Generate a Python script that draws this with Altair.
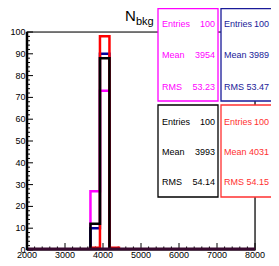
import altair as alt
import pandas as pd

# ---- data ----
bin_edges = [2000, 3670, 3920, 4170, 4420, 8000]
magenta_counts = [0, 27, 73, 0, 0, 0]
blue_counts = [0, 10, 90, 0, 0, 0]
red_counts = [0, 1, 98, 1, 0, 0]
black_counts = [0, 12, 88, 0, 0, 0]

stat_labels = ["Entries", "Mean", "RMS"]
magenta_stats = ["100", "3954", "53.23"]
blue_stats = ["100", "3989", "53.47"]
black_stats = ["100", "3993", "54.14"]
red_stats = ["100", "4031", "54.15"]

x_major = [2000, 3000, 4000, 5000, 6000, 7000, 8000]
y_major = [0, 10, 20, 30, 40, 50, 60, 70, 80, 90, 100]

W, H = 228, 218
FONT = "Liberation Sans"

x_scale = alt.Scale(domain=[2000, 8000], nice=False, zero=False)
y_scale = alt.Scale(domain=[0, 100], nice=False)
one = pd.DataFrame({"a": [0]})


def hist(counts, color):
    df = pd.DataFrame({"x": bin_edges, "y": counts})
    return alt.Chart(df).mark_line(
        interpolate="step-after", color=color, strokeWidth=2.5, clip=True
    ).encode(
        x=alt.X("x:Q", scale=x_scale, axis=None),
        y=alt.Y("y:Q", scale=y_scale, axis=None),
        order="x:Q",
    )


# ticks
x_minor = [v for v in range(2000, 8001, 200) if v % 1000 != 0]
y_minor = [v for v in range(0, 101, 2) if v % 10 != 0]
xt_major = alt.Chart(pd.DataFrame({"x": x_major})).mark_rule(color="black", strokeWidth=1).encode(
    x=alt.X("x:Q", scale=x_scale, axis=None), y=alt.value(H), y2=alt.value(H - 7))
xt_minor = alt.Chart(pd.DataFrame({"x": x_minor})).mark_rule(color="black", strokeWidth=1).encode(
    x=alt.X("x:Q", scale=x_scale, axis=None), y=alt.value(H), y2=alt.value(H - 3.5))
yt_major = alt.Chart(pd.DataFrame({"y": y_major})).mark_rule(color="black", strokeWidth=1).encode(
    y=alt.Y("y:Q", scale=y_scale, axis=None), x=alt.value(0), x2=alt.value(6))
yt_minor = alt.Chart(pd.DataFrame({"y": y_minor})).mark_rule(color="black", strokeWidth=1).encode(
    y=alt.Y("y:Q", scale=y_scale, axis=None), x=alt.value(0), x2=alt.value(3))

# tick labels as text marks placed through the scales
x_labels = alt.Chart(pd.DataFrame({"x": x_major, "t": [str(v) for v in x_major]})).mark_text(
    font=FONT, fontSize=9, align="center", baseline="top", color="black").encode(
    x=alt.X("x:Q", scale=x_scale, axis=None), y=alt.value(H + 0.5), text="t:N")
y_labels = alt.Chart(pd.DataFrame({"y": y_major, "t": [str(v) for v in y_major]})).mark_text(
    font=FONT, fontSize=9, align="right", baseline="middle", color="black").encode(
    y=alt.Y("y:Q", scale=y_scale, axis=None), x=alt.value(-1.5), text="t:N")

frame = alt.Chart(one).mark_rect(fill=None, stroke="black", strokeWidth=1.2).encode(
    x=alt.value(0), x2=alt.value(W), y=alt.value(0), y2=alt.value(H))
left_line = alt.Chart(one).mark_rule(color="black", strokeWidth=2.5).encode(
    x=alt.value(0), y=alt.value(0), y2=alt.value(H))
base_line = alt.Chart(one).mark_rule(color="#3a0a30", strokeWidth=3).encode(
    x=alt.value(0), x2=alt.value(W), y=alt.value(H - 1))

layers = [xt_minor, xt_major, yt_minor, yt_major, frame,
          hist(magenta_counts, "#ff00ff"),
          hist(blue_counts, "#000099"),
          hist(red_counts, "#ff0000"),
          hist(black_counts, "#000000"),
          base_line, left_line, x_labels, y_labels]

# title N_bkg
layers.append(alt.Chart(one).mark_text(text="N", font=FONT, fontSize=15, align="left",
                                       baseline="alphabetic", color="black").encode(
    x=alt.value(98), y=alt.value(-11.5)))
layers.append(alt.Chart(one).mark_text(text="bkg", font=FONT, fontSize=11, align="left",
                                       baseline="alphabetic", color="black").encode(
    x=alt.value(109), y=alt.value(-7)))


def stat_box(x0, y0, x1, y1, color, values, rows, val_dx, lab_dx):
    out = [alt.Chart(one).mark_rect(fill="white", stroke=color, strokeWidth=1.3).encode(
        x=alt.value(x0), x2=alt.value(x1), y=alt.value(y0), y2=alt.value(y1))]
    for lab, val, ry in zip(stat_labels, values, rows):
        out.append(alt.Chart(one).mark_text(text=lab, font=FONT, fontSize=9, align="left",
                                            baseline="middle", color=color).encode(
            x=alt.value(x0 + lab_dx), y=alt.value(ry)))
        out.append(alt.Chart(one).mark_text(text=val, font=FONT, fontSize=9, align="right",
                                            baseline="middle", color=color).encode(
            x=alt.value(x0 + val_dx), y=alt.value(ry)))
    return out


top_rows = [-8, 23, 55]
bot_rows = [90, 120, 150]
layers += stat_box(131, -23.5, 191, 69, "#ff00ff", magenta_stats, top_rows, 57, 4)
layers += stat_box(194, -23.5, 262, 69, "#1a1a99", blue_stats, top_rows, 48, 3)
layers += stat_box(131, 73, 191, 165, "#000000", black_stats, bot_rows, 57, 4)
layers += stat_box(194, 73, 262, 165, "#ff3030", red_stats, bot_rows, 48, 3)

chart = alt.layer(*layers).properties(
    width=W, height=H,
    autosize=alt.AutoSizeParams(type="none"),
    padding={"left": 19, "top": 24, "right": 16, "bottom": 8},
).configure_view(stroke=None).configure(background="white")

chart.save("out.html", embed_options={"renderer": "svg", "actions": False})
